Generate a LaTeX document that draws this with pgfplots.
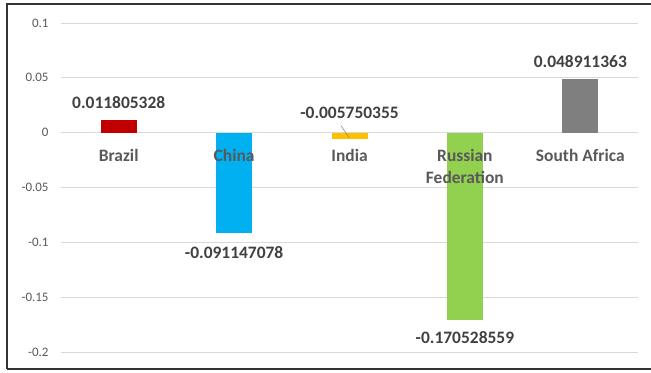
\documentclass[border=0pt]{standalone}
\usepackage{pgfplots}
\pgfplotsset{compat=1.18}
\usepackage{fontspec}
\setmainfont{Carlito}
\definecolor{cBrazil}{HTML}{C00000}
\definecolor{cChina}{HTML}{00B0F0}
\definecolor{cIndia}{HTML}{FFC000}
\definecolor{cRussia}{HTML}{92D050}
\definecolor{cSA}{HTML}{7F7F7F}
\definecolor{gridgray}{HTML}{D9D9D9}
\definecolor{tickgray}{HTML}{595959}
\definecolor{labelgray}{HTML}{404040}
\pgfplotsset{
  common/.style={
    at={(61bp,20bp)}, anchor=south west,
    scale only axis, width=577bp, height=329bp,
    xmin=-0.5, xmax=4.5, ymin=-0.2, ymax=0.1,
    axis line style={draw=none},
    major tick length=0pt,
    clip=false,
  }
}
\begin{document}
\begin{tikzpicture}[x=1bp,y=1bp]
\useasboundingbox (0,0) rectangle (651,372);
\draw[black!80, line width=1.2bp] (7,3) -- (7,368) -- (651,368);
\draw[black!80, line width=1.2bp] (7,3) -- (651,3);
\begin{axis}[
  common,
  ybar, bar width=36bp, bar shift=0pt,
  ytick={-0.2,-0.15,-0.1,-0.05,0,0.05,0.1},
  yticklabels={-0.2,-0.15,-0.1,-0.05,0,0.05,0.1},
  yticklabel style={font=\fontsize{13}{15}\selectfont, text=tickgray, anchor=east, xshift=-9bp},
  ymajorgrids, grid style={draw=gridgray, line width=0.9bp},
  xtick=\empty,
  point meta=explicit symbolic,
  nodes near coords,
  every node near coord/.append style={font=\fontsize{17.5}{20}\selectfont\bfseries, text=labelgray, anchor=center},
]
\addplot[fill=cBrazil, draw=none, every node near coord/.append style={yshift=17bp}] coordinates {(0,0.011805328) [0.011805328]};
\addplot[fill=cChina, draw=none, every node near coord/.append style={yshift=-20bp}] coordinates {(1,-0.091147078) [-0.091147078]};
\addplot[fill=cIndia, draw=none, every node near coord/.append style={yshift=26bp}] coordinates {(2,-0.005750355) [-0.005750355]};
\addplot[fill=cRussia, draw=none, every node near coord/.append style={yshift=-18bp}] coordinates {(3,-0.170528559) [-0.170528559]};
\addplot[fill=cSA, draw=none, every node near coord/.append style={yshift=17bp}] coordinates {(4,0.048911363) [0.048911363]};
\draw[gray, line width=0.5bp] (axis cs:1.926,0.0064) -- (axis cs:1.996,-0.0046);
\end{axis}
\begin{axis}[
  common,
  axis x line*=middle, axis y line*=left,
  ytick=\empty,
  xtick={0,1,2,3,4},
  xticklabels={Brazil,China,India,{Russian\\Federation},South Africa},
  xticklabel style={font=\fontsize{17.5}{22}\selectfont\bfseries, text=tickgray, align=center, anchor=north, yshift=-13bp},
]
\end{axis}
\end{tikzpicture}
\end{document}
